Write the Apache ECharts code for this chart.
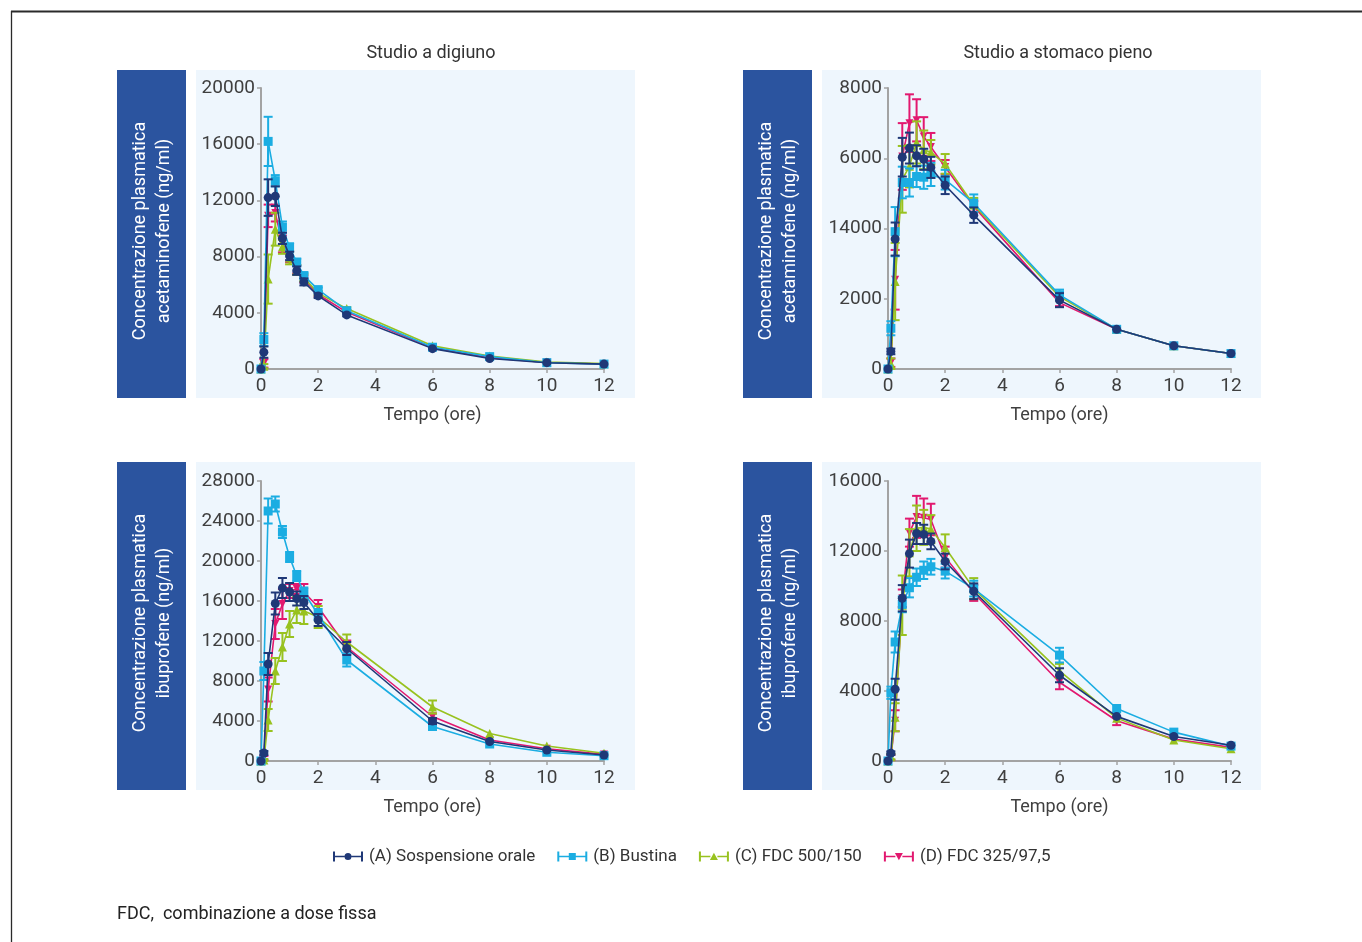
<!DOCTYPE html>
<html>
<head>
<meta charset="utf-8">
<title>Concentrazioni plasmatiche</title>
<script src="https://cdn.jsdelivr.net/npm/echarts@6/dist/echarts.min.js"></script>
<style>
  html, body { margin: 0; padding: 0; background: #ffffff; }
  #chart { width: 1362px; height: 942px; }
</style>
</head>
<body>
<div id="chart"></div>
<script>
// Sampling times (hours)
const times = [0, 0.1, 0.25, 0.5, 0.75, 1, 1.25, 1.5, 2, 3, 6, 8, 10, 12];

const seriesNames = ['(A) Sospensione orale', '(B) Bustina', '(C) FDC 500/150', '(D) FDC 325/97,5'];
const panelTitles = ['Studio a digiuno', 'Studio a stomaco pieno'];
const yTitleAcet = 'Concentrazione plasmatica\nacetaminofene (ng/ml)';
const yTitleIbu = 'Concentrazione plasmatica\nibuprofene (ng/ml)';
const xName = 'Tempo (ore)';
const footnote = 'FDC,  combinazione a dose fissa';

const xTickLabels = ['0', '2', '4', '6', '8', '10', '12'];
const yTicksAcetFast = ['0', '4000', '8000', '12000', '16000', '20000'];
const yTicksAcetFed = ['0', '2000', '14000', '6000', '8000'];
const yTicksIbuFast = ['0', '4000', '8000', '12000', '16000', '20000', '24000', '28000'];
const yTicksIbuFed = ['0', '4000', '8000', '12000', '16000'];

// Acetaminofene, digiuno (mean, sd)
const acetFastA = [0, 1200, 12200, 12300, 9300, 8050, 7000, 6200, 5200, 3850, 1450, 750, 450, 350];
const acetFastA_sd = [0, 400, 1300, 700, 400, 300, 300, 250, 150, 100, 0, 0, 0, 0];
const acetFastB = [0, 2100, 16200, 13400, 10100, 8650, 7600, 6650, 5650, 4150, 1550, 880, 450, 350];
const acetFastB_sd = [0, 450, 1750, 400, 400, 300, 250, 200, 150, 100, 0, 0, 0, 0];
const acetFastC = [0, 200, 6400, 9950, 8700, 7900, 7050, 6500, 5400, 4300, 1650, 920, 500, 380];
const acetFastC_sd = [0, 150, 1750, 1170, 500, 450, 350, 250, 150, 100, 0, 0, 0, 0];
const acetFastD = [0, 400, 10900, 11100, 8900, 8000, 7100, 6400, 5300, 4050, 1500, 800, 460, 360];
const acetFastD_sd = [0, 300, 800, 600, 600, 400, 300, 250, 150, 100, 0, 0, 0, 0];

// Acetaminofene, stomaco pieno
const acetFedA = [0, 500, 3700, 6030, 6290, 6070, 5970, 5740, 5230, 4380, 1960, 1130, 660, 440];
const acetFedA_sd = [0, 80, 470, 550, 440, 300, 300, 300, 250, 220, 200, 0, 0, 0];
const acetFedB = [0, 1160, 3910, 5310, 5310, 5480, 5460, 5540, 5390, 4720, 2110, 1130, 660, 440];
const acetFedB_sd = [0, 200, 700, 450, 400, 300, 330, 330, 280, 250, 150, 0, 0, 0];
const acetFedC = [0, 150, 2490, 5400, 5770, 6450, 6240, 6170, 5840, 4670, 2060, 1130, 660, 440];
const acetFedC_sd = [0, 150, 1100, 950, 600, 600, 550, 350, 280, 200, 100, 0, 0, 0];
const acetFedD = [0, 180, 2540, 6050, 7000, 7080, 6620, 6320, 5750, 4630, 1890, 1130, 660, 440];
const acetFedD_sd = [0, 120, 850, 950, 820, 600, 550, 400, 200, 150, 100, 0, 0, 0];

// Ibuprofene, digiuno
const ibuFastA = [0, 800, 9700, 15750, 17300, 16900, 16250, 15850, 14100, 11250, 4000, 1950, 1100, 600];
const ibuFastA_sd = [0, 200, 1100, 1100, 1000, 900, 700, 650, 600, 650, 300, 0, 0, 0];
const ibuFastB = [0, 9000, 25000, 25700, 22900, 20400, 18500, 16850, 14650, 10100, 3450, 1700, 870, 530];
const ibuFastB_sd = [0, 900, 1250, 750, 600, 500, 500, 500, 550, 650, 250, 0, 0, 0];
const ibuFastC = [0, 100, 4100, 9000, 11400, 13700, 15100, 15000, 14400, 11900, 5400, 2750, 1500, 770];
const ibuFastC_sd = [0, 100, 1100, 1300, 1400, 1300, 1300, 1300, 1100, 750, 650, 0, 0, 0];
const ibuFastD = [0, 300, 7150, 13700, 15700, 17000, 17200, 16900, 15400, 11400, 4450, 2100, 1230, 660];
const ibuFastD_sd = [0, 200, 1200, 1500, 1500, 700, 500, 800, 700, 650, 300, 0, 0, 0];

// Ibuprofene, stomaco pieno
const ibuFedA = [0, 450, 4100, 9300, 11850, 13000, 12950, 12550, 11400, 9700, 4900, 2550, 1400, 900];
const ibuFedA_sd = [0, 100, 600, 750, 800, 600, 550, 450, 450, 450, 400, 0, 0, 0];
const ibuFedB = [0, 3900, 6800, 8950, 9900, 10500, 10900, 11100, 10850, 9850, 6050, 3000, 1650, 850];
const ibuFedB_sd = [0, 350, 600, 450, 550, 500, 500, 450, 420, 450, 420, 0, 0, 0];
const ibuFedC = [0, 250, 2500, 8900, 11900, 13300, 13350, 13250, 12200, 9850, 5150, 2450, 1200, 700];
const ibuFedC_sd = [0, 150, 800, 1700, 1350, 1300, 1000, 800, 750, 600, 400, 0, 0, 0];
const ibuFedD = [0, 200, 2300, 9300, 13050, 13950, 13900, 13800, 11650, 9600, 4500, 2300, 1250, 780];
const ibuFedD_sd = [0, 150, 600, 500, 800, 1200, 1100, 900, 600, 450, 400, 250, 0, 0];

const FONT = 'Roboto, "Open Sans", sans-serif';
const colors = ['#1f3877', '#1badE2', '#98c21f', '#e2186f'];
const symbols = ['circle', 'rect', 'triangle', 'path://M0,0L10,0L5,9z'];
const symbolSizes = [9, 9, 9, 8];
const legendIcons = [
  'path://M0,0h2v10h-2z M28,0h2v10h-2z M2,4.2h9.5v1.6h-9.5z M18.5,4.2h9.5v1.6h-9.5z M11.5,5a3.5,3.5 0 1,0 7,0a3.5,3.5 0 1,0 -7,0z',
  'path://M0,0h2v10h-2z M28,0h2v10h-2z M2,4.2h9.5v1.6h-9.5z M18.5,4.2h9.5v1.6h-9.5z M11.5,1.5h7v7h-7z',
  'path://M0,0h2v10h-2z M28,0h2v10h-2z M2,4.2h9.5v1.6h-9.5z M18.5,4.2h9.5v1.6h-9.5z M15,1.2L19,8.6L11,8.6z',
  'path://M0,0h2v10h-2z M28,0h2v10h-2z M2,4.2h9.5v1.6h-9.5z M18.5,4.2h9.5v1.6h-9.5z M11,1.4L19,1.4L15,8.8z'
];

const panels = [
  { means: [acetFastA, acetFastB, acetFastC, acetFastD], sds: [acetFastA_sd, acetFastB_sd, acetFastC_sd, acetFastD_sd], ticks: yTicksAcetFast, interval: 4000 },
  { means: [acetFedA, acetFedB, acetFedC, acetFedD], sds: [acetFedA_sd, acetFedB_sd, acetFedC_sd, acetFedD_sd], ticks: yTicksAcetFed, interval: 2000 },
  { means: [ibuFastA, ibuFastB, ibuFastC, ibuFastD], sds: [ibuFastA_sd, ibuFastB_sd, ibuFastC_sd, ibuFastD_sd], ticks: yTicksIbuFast, interval: 4000 },
  { means: [ibuFedA, ibuFedB, ibuFedC, ibuFedD], sds: [ibuFedA_sd, ibuFedB_sd, ibuFedC_sd, ibuFedD_sd], ticks: yTicksIbuFed, interval: 4000 }
];

const gridBoxes = [
  { left: 261, top: 88, width: 343, height: 281 },
  { left: 888, top: 88, width: 343, height: 281 },
  { left: 261, top: 481, width: 343, height: 280 },
  { left: 888, top: 481, width: 343, height: 280 }
];

const axisGrey = '#a3a3a3';
const labelColor = '#3f3f3f';

const grids = gridBoxes.map(b => Object.assign({ containLabel: false }, b));

const xAxes = panels.map((p, i) => ({
  type: 'value', gridIndex: i, min: 0, max: 12, interval: 2,
  name: xName, nameLocation: 'middle', nameGap: 37,
  nameTextStyle: { fontFamily: FONT, fontSize: 18, color: labelColor },
  axisLine: { lineStyle: { color: axisGrey, width: 2 } },
  axisTick: { show: true, length: 4, lineStyle: { color: axisGrey, width: 1.5 } },
  axisLabel: { fontFamily: FONT, fontSize: 19, color: labelColor, margin: 8,
    formatter: v => xTickLabels[Math.round(v / 2)] },
  splitLine: { show: false }
}));

const yAxes = panels.map((p, i) => ({
  type: 'value', gridIndex: i, min: 0, max: p.interval * (p.ticks.length - 1), interval: p.interval,
  axisLine: { show: true, lineStyle: { color: axisGrey, width: 2 } },
  axisTick: { show: true, length: 4, lineStyle: { color: axisGrey, width: 1.5 } },
  axisLabel: { fontFamily: FONT, fontSize: 19, color: labelColor, margin: 6,
    formatter: v => p.ticks[Math.round(v / p.interval)] },
  splitLine: { show: false }
}));

function errorBarRenderer(color) {
  return function (params, api) {
    const x = api.value(0), lo = api.value(1), hi = api.value(2);
    if (!(hi > lo)) return null;
    const pLo = api.coord([x, lo]);
    const pHi = api.coord([x, hi]);
    const w = 4.5;
    const style = { stroke: color, lineWidth: 2, fill: null };
    return {
      type: 'group',
      children: [
        { type: 'line', shape: { x1: pLo[0], y1: pLo[1], x2: pHi[0], y2: pHi[1] }, style },
        { type: 'line', shape: { x1: pHi[0] - w, y1: pHi[1], x2: pHi[0] + w, y2: pHi[1] }, style },
        { type: 'line', shape: { x1: pLo[0] - w, y1: pLo[1], x2: pLo[0] + w, y2: pLo[1] }, style }
      ]
    };
  };
}

const series = [];
panels.forEach((p, pi) => {
  // draw D, C, B first so that A stays on top
  [3, 2, 1, 0].forEach((k, order) => {
    const mean = p.means[k], sd = p.sds[k];
    series.push({
      type: 'custom', name: seriesNames[k], xAxisIndex: pi, yAxisIndex: pi,
      renderItem: errorBarRenderer(colors[k]),
      itemStyle: { color: colors[k] },
      encode: { x: 0, y: [1, 2] },
      data: times.map((t, j) => [t, mean[j] - sd[j], mean[j] + sd[j]]),
      z: 2 + order, silent: true, clip: false
    });
    series.push({
      type: 'line', name: seriesNames[k], xAxisIndex: pi, yAxisIndex: pi,
      data: times.map((t, j) => [t, mean[j]]),
      symbol: symbols[k], symbolSize: symbolSizes[k], showAllSymbol: true,
      itemStyle: { color: colors[k] },
      lineStyle: { color: colors[k], width: 1.6 },
      z: 2 + order, animation: false
    });
  });
});

const graphics = [];
// outer frame
graphics.push({ type: 'line', shape: { x1: 11, y1: 11.5, x2: 1362, y2: 11.5 }, style: { stroke: '#2a2a2a', lineWidth: 2 }, z: 0 });
graphics.push({ type: 'line', shape: { x1: 11.5, y1: 11, x2: 11.5, y2: 942 }, style: { stroke: '#2a2a2a', lineWidth: 1.3 }, z: 0 });

// panel backgrounds and vertical title boxes
const panelFrames = [
  { bgX: 196, boxX: 117, y: 70, yTitle: yTitleAcet },
  { bgX: 822, boxX: 743, y: 70, yTitle: yTitleAcet },
  { bgX: 196, boxX: 117, y: 462, yTitle: yTitleIbu },
  { bgX: 822, boxX: 743, y: 462, yTitle: yTitleIbu }
];
panelFrames.forEach(f => {
  graphics.push({ type: 'rect', shape: { x: f.bgX, y: f.y, width: 439, height: 328 }, style: { fill: '#eef6fd' }, z: -10 });
  graphics.push({ type: 'rect', shape: { x: f.boxX, y: f.y, width: 69, height: 328 }, style: { fill: '#2b549f' }, z: -10 });
  graphics.push({
    type: 'text', x: f.boxX + 35, y: f.y + 161, rotation: Math.PI / 2,
    style: { text: f.yTitle, fill: '#ffffff', font: '18px ' + FONT, align: 'center', verticalAlign: 'middle', lineHeight: 24 },
    z: 10
  });
});

// column titles
graphics.push({ type: 'text', x: 431, y: 53, style: { text: panelTitles[0], fill: '#333333', font: '18px ' + FONT, align: 'center', verticalAlign: 'middle' } });
graphics.push({ type: 'text', x: 1058, y: 53, style: { text: panelTitles[1], fill: '#333333', font: '18px ' + FONT, align: 'center', verticalAlign: 'middle' } });

// footnote
graphics.push({ type: 'text', x: 117, y: 914, style: { text: footnote, fill: '#222222', font: '18px ' + FONT, align: 'left', verticalAlign: 'middle' } });

const chart = echarts.init(document.getElementById('chart'), null, { renderer: 'canvas' });
chart.setOption({
  animation: false,
  backgroundColor: '#ffffff',
  grid: grids,
  xAxis: xAxes,
  yAxis: yAxes,
  legend: {
    left: 328, top: 843, itemGap: 22, itemWidth: 30, itemHeight: 10,
    selectedMode: false,
    textStyle: { fontFamily: FONT, fontSize: 17, color: '#333333', padding: [0, 0, 0, 1] },
    itemStyle: { borderWidth: 0 },
    data: seriesNames.map((n, k) => ({ name: n, icon: legendIcons[k] }))
  },
  graphic: graphics,
  series: series
});
</script>
</body>
</html>
